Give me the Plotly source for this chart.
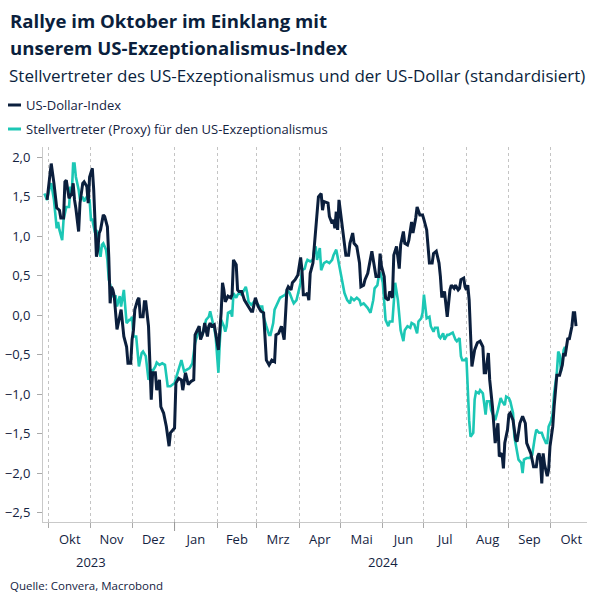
import plotly.graph_objects as go
import pandas as pd

# ---------------- data ----------------
usd_dates = [
    "2023-09-30", "2023-10-03", "2023-10-05", "2023-10-07", "2023-10-09", "2023-10-10", "2023-10-12", "2023-10-13",
    "2023-10-14", "2023-10-16", "2023-10-18", "2023-10-19", "2023-10-20", "2023-10-21", "2023-10-23", "2023-10-24",
    "2023-10-26", "2023-10-27", "2023-10-29", "2023-10-30", "2023-10-31", "2023-11-02", "2023-11-03", "2023-11-04",
    "2023-11-05", "2023-11-06", "2023-11-07", "2023-11-08", "2023-11-10", "2023-11-11", "2023-11-13", "2023-11-14",
    "2023-11-15", "2023-11-16", "2023-11-17", "2023-11-18", "2023-11-19", "2023-11-20", "2023-11-21", "2023-11-23",
    "2023-11-24", "2023-11-25", "2023-11-27", "2023-11-28", "2023-11-30", "2023-12-01", "2023-12-02", "2023-12-03",
    "2023-12-05", "2023-12-06", "2023-12-07", "2023-12-09", "2023-12-10", "2023-12-11", "2023-12-13", "2023-12-15",
    "2023-12-16", "2023-12-18", "2023-12-19", "2023-12-21", "2023-12-22", "2023-12-24", "2023-12-26", "2023-12-28",
    "2023-12-29", "2024-01-01", "2024-01-02", "2024-01-04", "2024-01-06", "2024-01-07", "2024-01-09", "2024-01-11",
    "2024-01-13", "2024-01-15", "2024-01-16", "2024-01-18", "2024-01-19", "2024-01-20", "2024-01-22", "2024-01-23",
    "2024-01-25", "2024-01-26", "2024-01-27", "2024-01-28", "2024-01-30", "2024-01-31", "2024-02-02", "2024-02-04",
    "2024-02-05", "2024-02-06", "2024-02-07", "2024-02-09", "2024-02-11", "2024-02-12", "2024-02-13", "2024-02-15",
    "2024-02-16", "2024-02-17", "2024-02-19", "2024-02-21", "2024-02-23", "2024-02-26", "2024-02-27", "2024-02-29",
    "2024-03-02", "2024-03-04", "2024-03-06", "2024-03-07", "2024-03-08", "2024-03-10", "2024-03-12", "2024-03-14",
    "2024-03-15", "2024-03-17", "2024-03-19", "2024-03-21", "2024-03-23", "2024-03-24", "2024-03-26", "2024-03-27",
    "2024-03-29", "2024-03-31", "2024-04-02", "2024-04-03", "2024-04-04", "2024-04-06", "2024-04-07", "2024-04-08",
    "2024-04-09", "2024-04-11", "2024-04-12", "2024-04-13", "2024-04-14", "2024-04-15", "2024-04-17", "2024-04-18",
    "2024-04-19", "2024-04-21", "2024-04-22", "2024-04-23", "2024-04-25", "2024-04-26", "2024-04-27", "2024-04-28",
    "2024-04-29", "2024-04-30", "2024-05-01", "2024-05-03", "2024-05-04", "2024-05-05", "2024-05-07", "2024-05-08",
    "2024-05-10", "2024-05-11", "2024-05-13", "2024-05-15", "2024-05-16", "2024-05-18", "2024-05-19", "2024-05-21",
    "2024-05-24", "2024-05-26", "2024-05-27", "2024-05-29", "2024-05-30", "2024-05-31", "2024-06-02", "2024-06-03",
    "2024-06-05", "2024-06-06", "2024-06-08", "2024-06-09", "2024-06-11", "2024-06-13", "2024-06-14", "2024-06-16",
    "2024-06-17", "2024-06-19", "2024-06-20", "2024-06-22", "2024-06-23", "2024-06-25", "2024-06-26", "2024-06-28",
    "2024-06-30", "2024-07-01", "2024-07-03", "2024-07-04", "2024-07-05", "2024-07-07", "2024-07-08", "2024-07-10",
    "2024-07-12", "2024-07-13", "2024-07-14", "2024-07-15", "2024-07-16", "2024-07-18", "2024-07-20", "2024-07-21",
    "2024-07-23", "2024-07-24", "2024-07-26", "2024-07-27", "2024-07-28", "2024-07-30", "2024-07-31", "2024-08-01",
    "2024-08-02", "2024-08-03", "2024-08-05", "2024-08-07", "2024-08-09", "2024-08-11", "2024-08-13", "2024-08-14",
    "2024-08-15", "2024-08-17", "2024-08-18", "2024-08-20", "2024-08-21", "2024-08-22", "2024-08-24", "2024-08-25",
    "2024-08-27", "2024-08-28", "2024-08-29", "2024-08-31", "2024-09-01", "2024-09-02", "2024-09-04", "2024-09-06",
    "2024-09-07", "2024-09-09", "2024-09-11", "2024-09-13", "2024-09-14", "2024-09-16", "2024-09-17", "2024-09-19",
    "2024-09-21", "2024-09-22", "2024-09-23", "2024-09-24", "2024-09-25", "2024-09-26", "2024-09-27", "2024-09-29",
    "2024-09-30", "2024-10-01", "2024-10-03", "2024-10-04", "2024-10-05", "2024-10-06", "2024-10-08", "2024-10-10",
    "2024-10-11", "2024-10-12", "2024-10-14", "2024-10-15", "2024-10-17", "2024-10-18", "2024-10-19", "2024-10-20",
]
usd_values = [
    1.46, 1.92, 1.67, 1.36, 1.33, 1.23, 1.23, 1.69,
    1.71, 1.48, 1.54, 1.67, 1.46, 1.35, 1.06, 1.42,
    1.67, 1.69, 1.63, 1.42, 1.75, 1.86, 1.59, 1.08,
    0.74, 0.83, 1.04, 1.08, 1.27, 1.25, 1.12, 0.74,
    0.15, 0.36, 0.32, 0.24, 0.07, -0.18, -0.10, 0.07,
    -0.10, -0.27, -0.40, -0.61, -0.61, -0.31, -0.19, 0.07,
    0.19, 0.22, -0.02, -0.02, 0.17, 0.17, -0.14, -1.07,
    -0.73, -0.73, -0.95, -0.82, -1.16, -1.24, -1.41, -1.66,
    -1.49, -1.43, -0.86, -0.80, -0.82, -0.95, -0.73, -0.88,
    -0.84, -0.82, -0.25, -0.16, -0.14, -0.31, -0.21, -0.10,
    -0.27, -0.14, -0.10, -0.14, -0.12, -0.23, -0.44, 0.03,
    0.41, 0.32, 0.17, 0.24, 0.22, 0.26, 0.70, 0.64,
    0.32, 0.30, 0.30, 0.19, 0.13, 0.05, 0.05, 0.22,
    0.11, 0.05, 0.03, -0.27, -0.57, -0.63, -0.57, -0.59,
    -0.25, -0.23, -0.14, -0.31, 0.32, 0.36, 0.32, 0.41,
    0.45, 0.51, 0.73, 0.57, 0.26, 0.26, 0.28, 0.19,
    0.53, 0.66, 0.89, 1.08, 1.33, 1.50, 1.54, 1.33,
    1.44, 1.42, 1.42, 1.25, 1.16, 1.21, 1.10, 1.31,
    1.08, 1.46, 1.33, 1.04, 0.95, 0.76, 0.76, 0.91,
    1.04, 0.91, 0.87, 0.66, 0.36, 0.38, 0.45, 0.53,
    0.81, 0.57, 0.49, 0.49, 0.78, 0.62, 0.49, 0.22,
    0.19, 0.30, 0.22, 0.76, 0.87, 0.59, 0.89, 1.06,
    0.91, 0.89, 0.95, 1.18, 1.04, 1.23, 1.37, 1.27,
    1.27, 1.21, 1.08, 0.87, 0.66, 0.66, 0.78, 0.81,
    0.66, 0.49, 0.24, 0.24, 0.30, -0.02, 0.32, 0.38,
    0.34, 0.38, 0.32, 0.34, 0.45, 0.47, 0.36, 0.32,
    0.38, 0.19, -0.65, -0.44, -0.35, -0.33, -0.40, -0.73,
    -0.73, -0.48, -0.82, -1.16, -1.37, -1.62, -1.37, -1.79,
    -1.75, -1.94, -1.62, -1.45, -1.26, -1.24, -1.33, -1.58,
    -1.60, -1.37, -1.28, -1.37, -1.62, -1.71, -1.75, -1.92,
    -1.92, -1.79, -1.75, -1.83, -2.13, -1.75, -1.89, -2.04,
    -1.96, -1.66, -1.41, -1.16, -0.95, -0.76, -0.76, -0.63,
    -0.48, -0.52, -0.29, -0.31, -0.14, 0.03, 0.03, -0.14,
]

proxy_dates = [
    "2023-09-28", "2023-09-30", "2023-10-02", "2023-10-03", "2023-10-05", "2023-10-06", "2023-10-07", "2023-10-08",
    "2023-10-09", "2023-10-11", "2023-10-12", "2023-10-14", "2023-10-16", "2023-10-17", "2023-10-18", "2023-10-19",
    "2023-10-20", "2023-10-21", "2023-10-23", "2023-10-24", "2023-10-26", "2023-10-27", "2023-10-29", "2023-10-31",
    "2023-11-01", "2023-11-02", "2023-11-04", "2023-11-05", "2023-11-06", "2023-11-08", "2023-11-09", "2023-11-10",
    "2023-11-12", "2023-11-13", "2023-11-14", "2023-11-16", "2023-11-17", "2023-11-19", "2023-11-20", "2023-11-22",
    "2023-11-23", "2023-11-25", "2023-11-26", "2023-11-27", "2023-11-29", "2023-11-30", "2023-12-01", "2023-12-02",
    "2023-12-04", "2023-12-05", "2023-12-06", "2023-12-08", "2023-12-09", "2023-12-11", "2023-12-13", "2023-12-15",
    "2023-12-16", "2023-12-18", "2023-12-19", "2023-12-21", "2023-12-23", "2023-12-25", "2023-12-27", "2023-12-29",
    "2024-01-01", "2024-01-02", "2024-01-04", "2024-01-06", "2024-01-08", "2024-01-10", "2024-01-12", "2024-01-14",
    "2024-01-16", "2024-01-18", "2024-01-19", "2024-01-21", "2024-01-23", "2024-01-24", "2024-01-26", "2024-01-27",
    "2024-01-29", "2024-01-30", "2024-01-31", "2024-02-01", "2024-02-02", "2024-02-03", "2024-02-04", "2024-02-06",
    "2024-02-07", "2024-02-08", "2024-02-09", "2024-02-11", "2024-02-12", "2024-02-13", "2024-02-15", "2024-02-16",
    "2024-02-17", "2024-02-19", "2024-02-21", "2024-02-22", "2024-02-23", "2024-02-24", "2024-02-26", "2024-02-28",
    "2024-03-01", "2024-03-03", "2024-03-05", "2024-03-06", "2024-03-08", "2024-03-10", "2024-03-11", "2024-03-13",
    "2024-03-14", "2024-03-16", "2024-03-18", "2024-03-20", "2024-03-22", "2024-03-23", "2024-03-25", "2024-03-27",
    "2024-03-28", "2024-03-30", "2024-03-31", "2024-04-02", "2024-04-03", "2024-04-05", "2024-04-06", "2024-04-07",
    "2024-04-09", "2024-04-11", "2024-04-12", "2024-04-13", "2024-04-14", "2024-04-16", "2024-04-17", "2024-04-19",
    "2024-04-21", "2024-04-23", "2024-04-25", "2024-04-26", "2024-04-28", "2024-04-29", "2024-04-30", "2024-05-02",
    "2024-05-03", "2024-05-04", "2024-05-06", "2024-05-08", "2024-05-09", "2024-05-11", "2024-05-13", "2024-05-15",
    "2024-05-16", "2024-05-18", "2024-05-19", "2024-05-21", "2024-05-23", "2024-05-25", "2024-05-26", "2024-05-28",
    "2024-05-29", "2024-05-30", "2024-06-01", "2024-06-02", "2024-06-03", "2024-06-05", "2024-06-06", "2024-06-08",
    "2024-06-09", "2024-06-10", "2024-06-12", "2024-06-13", "2024-06-14", "2024-06-16", "2024-06-17", "2024-06-19",
    "2024-06-21", "2024-06-22", "2024-06-24", "2024-06-26", "2024-06-27", "2024-06-29", "2024-06-30", "2024-07-01",
    "2024-07-02", "2024-07-03", "2024-07-05", "2024-07-06", "2024-07-08", "2024-07-09", "2024-07-11", "2024-07-12",
    "2024-07-13", "2024-07-15", "2024-07-16", "2024-07-18", "2024-07-19", "2024-07-21", "2024-07-22", "2024-07-24",
    "2024-07-25", "2024-07-27", "2024-07-28", "2024-07-29", "2024-07-31", "2024-08-01", "2024-08-02", "2024-08-03",
    "2024-08-04", "2024-08-06", "2024-08-07", "2024-08-08", "2024-08-10", "2024-08-11", "2024-08-13", "2024-08-14",
    "2024-08-15", "2024-08-16", "2024-08-18", "2024-08-19", "2024-08-21", "2024-08-22", "2024-08-24", "2024-08-26",
    "2024-08-27", "2024-08-29", "2024-08-30", "2024-09-01", "2024-09-02", "2024-09-04", "2024-09-05", "2024-09-07",
    "2024-09-08", "2024-09-10", "2024-09-11", "2024-09-12", "2024-09-14", "2024-09-16", "2024-09-18", "2024-09-20",
    "2024-09-21", "2024-09-23", "2024-09-25", "2024-09-26", "2024-09-28", "2024-09-29", "2024-09-30", "2024-10-02",
    "2024-10-03", "2024-10-04", "2024-10-06", "2024-10-07", "2024-10-08", "2024-10-09", "2024-10-11", "2024-10-12",
]
proxy_values = [
    1.54, 1.46, 1.63, 1.67, 1.46, 1.25, 1.10, 1.18,
    1.08, 0.95, 1.21, 1.37, 1.37, 1.63, 1.54, 1.92,
    1.92, 1.75, 1.59, 1.46, 1.50, 1.44, 1.50, 1.46,
    1.21, 1.21, 1.04, 1.08, 0.93, 0.74, 0.89, 0.91,
    0.83, 0.70, 0.45, 0.32, 0.24, 0.24, 0.11, 0.24,
    0.11, 0.32, 0.11, -0.10, -0.06, -0.06, -0.02, -0.27,
    -0.27, -0.44, -0.65, -0.48, -0.46, -0.52, -0.82, -0.69,
    -0.71, -0.65, -0.60, -0.63, -0.61, -0.63, -0.90, -0.90,
    -0.86, -0.80, -0.69, -0.57, -0.71, -0.69, -0.67, -0.61,
    -0.35, -0.23, -0.19, -0.27, -0.14, -0.06, -0.02, 0.05,
    -0.10, -0.16, -0.27, -0.48, -0.73, -0.35, -0.06, -0.14,
    -0.21, -0.14, 0.03, 0.05, -0.02, 0.28, 0.22, 0.26,
    0.28, 0.26, 0.34, 0.36, 0.28, 0.17, 0.13, 0.17,
    0.15, 0.11, 0.11, -0.02, -0.14, -0.25, -0.25, -0.10,
    0.07, 0.15, 0.22, 0.24, 0.26, 0.32, 0.28, 0.19,
    0.15, 0.19, 0.26, 0.41, 0.57, 0.59, 0.66, 0.70,
    0.68, 0.70, 0.83, 0.87, 0.70, 0.85, 0.57, 0.66,
    0.68, 0.66, 0.70, 0.76, 0.83, 0.74, 0.62, 0.45,
    0.38, 0.28, 0.19, 0.15, 0.22, 0.19, 0.22, 0.19,
    0.13, 0.15, 0.13, 0.09, 0.03, 0.19, 0.34, 0.38,
    0.49, 0.55, 0.41, 0.19, -0.06, -0.14, -0.08, -0.08,
    0.19, 0.41, 0.19, -0.06, -0.19, -0.33, -0.19, -0.14,
    -0.16, -0.10, -0.12, -0.23, -0.08, -0.04, 0.03, 0.26,
    0.13, -0.04, -0.02, -0.14, -0.21, -0.16, -0.16, -0.27,
    -0.29, -0.23, -0.31, -0.25, -0.25, -0.23, -0.22, -0.31,
    -0.33, -0.29, -0.52, -0.57, -0.57, -0.54, -0.95, -1.33,
    -1.54, -1.49, -1.07, -0.97, -0.99, -0.95, -0.99, -1.16,
    -1.26, -1.09, -1.09, -1.20, -1.28, -1.33, -1.20, -1.05,
    -1.09, -1.14, -1.03, -1.05, -1.09, -1.24, -1.54, -1.71,
    -1.83, -1.87, -2.00, -1.83, -1.81, -1.81, -1.77, -1.54,
    -1.45, -1.49, -1.49, -1.54, -1.62, -1.62, -1.41, -1.33,
    -1.24, -0.99, -0.73, -0.46, -0.50, -0.71, -0.44, -0.40,
]

series_names = ["US-Dollar-Index", "Stellvertreter (Proxy) für den US-Exzeptionalismus"]
month_labels = ["Okt", "Nov", "Dez", "Jan", "Feb", "Mrz", "Apr", "Mai", "Jun", "Jul", "Aug", "Sep", "Okt"]
year_labels = ["2023", "2024"]
y_ticks = [-2.5, -2.0, -1.5, -1.0, -0.5, 0.0, 0.5, 1.0, 1.5, 2.0]

title_lines = ["Rallye im Oktober im Einklang mit", "unserem US-Exzeptionalismus-Index"]
subtitle = "Stellvertreter des US-Exzeptionalismus und der US-Dollar (standardisiert)"
source = "Quelle: Convera, Macrobond"

# ---------------- styling ----------------
NAVY = "#0b1f3d"
TEAL = "#1cc7b5"
TEXT = "#14233f"
AXIS = "#c9c9c9"
FONT = "Open Sans"

W, H = 604, 604
L, R, T, B = 43, 17, 147, 82
PW, PH = W - L - R, H - T - B


def px(xp):
    return (xp - L) / PW


def py(yp):
    return (H - B - yp) / PH


month_starts = pd.date_range("2023-10-01", "2024-11-01", freq="MS")
mid_months = [month_starts[i] + (month_starts[i + 1] - month_starts[i]) / 2 for i in range(len(month_labels))]
grid_months = list(month_starts[:len(month_labels)])
year_pos = [pd.Timestamp("2023-11-01"), pd.Timestamp("2024-06-01")]

fig = go.Figure()
fig.add_trace(go.Scatter(x=pd.to_datetime(proxy_dates), y=proxy_values, mode="lines",
                         line=dict(color=TEAL, width=2.6), name=series_names[1], showlegend=False))
fig.add_trace(go.Scatter(x=pd.to_datetime(usd_dates), y=usd_values, mode="lines",
                         line=dict(color=NAVY, width=3), name=series_names[0], showlegend=False))

annotations = []
annotations.append(dict(text="<b>" + title_lines[0] + "</b>", x=px(8), y=py(21), xref="paper", yref="paper",
                        xanchor="left", yanchor="middle", showarrow=False, font=dict(size=18.6, color=NAVY, family=FONT)))
annotations.append(dict(text="<b>" + title_lines[1] + "</b>", x=px(8), y=py(47), xref="paper", yref="paper",
                        xanchor="left", yanchor="middle", showarrow=False, font=dict(size=18.6, color=NAVY, family=FONT)))
annotations.append(dict(text=subtitle, x=px(7), y=py(76), xref="paper", yref="paper",
                        xanchor="left", yanchor="middle", showarrow=False, font=dict(size=17, color=NAVY, family=FONT)))
for name, yy in zip(series_names, [105, 129]):
    annotations.append(dict(text=name, x=px(24), y=py(yy), xref="paper", yref="paper",
                            xanchor="left", yanchor="middle", showarrow=False, font=dict(size=13, color=TEXT, family=FONT)))
annotations.append(dict(text=source, x=px(8), y=py(585), xref="paper", yref="paper",
                        xanchor="left", yanchor="middle", showarrow=False, font=dict(size=11.5, color=TEXT, family=FONT)))
for lab, pos in zip(year_labels, year_pos):
    annotations.append(dict(text=lab, x=pos, y=py(562), xref="x", yref="paper",
                            xanchor="center", yanchor="middle", showarrow=False, font=dict(size=13, color=TEXT, family=FONT)))

shapes = [
    dict(type="line", xref="paper", yref="paper", x0=px(8), x1=px(21), y0=py(105), y1=py(105),
         line=dict(color=NAVY, width=3)),
    dict(type="line", xref="paper", yref="paper", x0=px(8), x1=px(21), y0=py(129), y1=py(129),
         line=dict(color=TEAL, width=3)),
    dict(type="line", xref="x", yref="paper", x0=pd.Timestamp("2024-01-01"), x1=pd.Timestamp("2024-01-01"),
         y0=0, y1=py(531), line=dict(color="#9a9a9a", width=1)),
]

fig.update_layout(
    width=W, height=H, autosize=False,
    margin=dict(l=L, r=R, t=T, b=B, pad=0, autoexpand=False),
    paper_bgcolor="white", plot_bgcolor="white",
    font=dict(family=FONT, color=TEXT, size=13),
    separators=",.",
    showlegend=False,
    annotations=annotations,
    shapes=shapes,
)
fig.update_xaxes(
    type="date", range=[pd.Timestamp("2023-09-27"), pd.Timestamp("2024-10-28")],
    tickmode="array", tickvals=mid_months, ticktext=month_labels,
    ticks="outside", ticklen=5, tickcolor="rgba(0,0,0,0)",
    tickfont=dict(size=13, color=TEXT), automargin=False,
    showgrid=False, showline=True, linecolor=AXIS, linewidth=1, zeroline=False,
    minor=dict(tickmode="array", tickvals=grid_months, ticks="outside", ticklen=5, tickcolor="#a9a9a9",
               showgrid=True, gridcolor="#c4c4c4", griddash="dot", gridwidth=1),
)
fig.update_yaxes(
    range=[-2.62, 2.13], tickmode="array", tickvals=y_ticks, tickformat=".1f",
    ticks="outside", ticklen=5, tickcolor="#a9a9a9", ticklabelstandoff=4,
    tickfont=dict(size=13, color=TEXT), automargin=False,
    showgrid=False, showline=True, linecolor=AXIS, linewidth=1, zeroline=False,
)

fig.write_html("out.html")
